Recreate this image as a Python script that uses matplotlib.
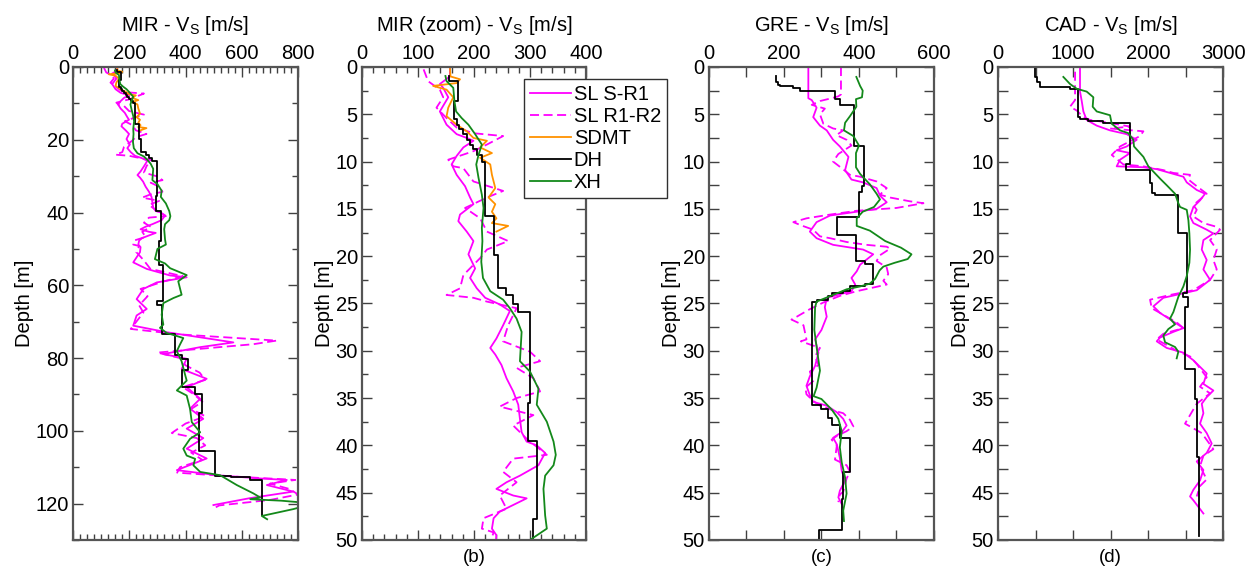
import numpy as np
import matplotlib
matplotlib.use("Agg")
import matplotlib.pyplot as plt
from matplotlib.ticker import MultipleLocator

plt.rcParams['font.family'] = ['Liberation Sans', 'DejaVu Sans']
plt.rcParams['mathtext.default'] = 'regular'

# ---------------- MIR site ----------------
mir_sl1_depth = [0.0, 1.0, 1.8, 2.2, 3.2, 4.7, 6.1, 7.1, 7.5, 7.8, 8.5, 9.4, 10.3, 11.4, 12.6, 13.8, 14.5,
                 15.6, 16.3, 17.4, 18.4, 19.8, 21.3, 22.3, 23.4, 24.4, 25.1, 25.8, 27.3, 28.7, 29.7, 30.4,
                 31.5, 32.9, 34.3, 35.7, 37.2, 38.6, 39.6, 40.0, 40.8, 42.1, 43.2, 43.9, 44.6, 45.3, 45.6,
                 46.3, 47.0, 47.7, 48.8, 49.5, 50.9, 53.7, 55.5, 57.3, 57.8, 59.2, 61.0, 63.8, 66.5, 68.3,
                 71.1, 72.9, 74.3, 75.7, 77.0, 78.9, 80.2, 83.0, 85.7, 88.0, 91.2, 93.9, 96.7, 99.4, 102.0,
                 104.9, 107.6, 110.8, 112.2, 113.1, 113.5, 114.9, 116.7, 118.5, 120.4]
mir_sl1_vs = [157, 157, 139, 145, 154, 139, 151, 169, 187, 199, 181, 169, 160, 169, 184, 193, 199,
              175, 172, 187, 199, 190, 202, 193, 205, 220, 246, 264, 252, 240, 229, 238,
              249, 258, 270, 279, 282, 285, 294, 312, 327, 315, 282, 258, 240, 270, 294,
              270, 246, 235, 232, 240, 238, 214, 262, 345, 404, 298, 250, 226, 262, 226,
              214, 333, 452, 570, 452, 321, 404, 386, 475, 404, 452, 416, 463, 404, 463,
              404, 475, 369, 511, 665, 760, 689, 783, 629, 499]

mir_sl2_depth = [0.25, 1.5, 2.4, 3.2, 4.3, 5.4, 6.4, 7.0, 7.3, 8.2, 8.9, 9.8, 10.5, 10.7, 12.1, 13.1,
                 13.8, 14.9, 16.0, 17.4, 18.4, 19.3, 20.2, 22.0, 23.4, 24.1, 24.4, 24.8, 25.5, 27.3, 29.0,
                 30.1, 31.1, 31.8, 32.9, 34.3, 35.0, 35.9, 36.8, 37.9, 39.3, 41.0, 41.4, 42.8, 43.9, 45.3,
                 46.7, 47.7, 48.8, 49.2, 50.9, 53.0, 55.5, 57.5, 59.0, 61.0, 63.0, 65.5, 67.5, 70.0, 72.0,
                 73.5, 75.2, 76.2, 77.0, 78.5, 80.0, 82.0, 84.0, 86.0, 88.0, 90.0, 92.0, 94.0, 96.0, 98.0,
                 100.6, 102.0, 104.0, 106.0, 108.0, 110.0, 111.5, 112.5, 113.5, 114.5, 116.0, 117.5, 119.0,
                 120.5, 121.3]
mir_sl2_vs = [110, 118, 139, 145, 133, 151, 169, 199, 252, 223, 199, 154, 163, 181, 199, 252,
              223, 184, 211, 223, 261, 223, 211, 181, 175, 151, 199, 223, 276, 261, 252,
              300, 318, 276, 306, 318, 276, 246, 306, 270, 294, 330, 270, 252, 276, 246,
              258, 217, 214, 235, 225, 250, 275, 390, 320, 240, 265, 235, 250, 225, 205,
              380, 724, 640, 520, 300, 380, 400, 450, 470, 390, 430, 460, 420, 470, 400,
              351, 440, 470, 420, 460, 380, 370, 560, 790, 700, 770, 800, 700,
              520, 500]

mir_sdmt_depth = [0.0, 1.0, 1.3, 1.7, 2.0, 2.4, 3.2, 4.3, 5.2, 6.1, 6.8, 7.5, 7.8, 8.5, 9.1, 9.6, 10.3,
                  11.4, 12.8, 13.8, 14.5, 15.3, 16.0, 16.5, 16.8, 17.4]
mir_sdmt_vs = [157, 158, 175, 169, 127, 151, 163, 154, 151, 169, 187, 199, 223, 211, 232, 211, 229,
               232, 238, 226, 238, 232, 240, 232, 261, 240]

# down-hole: layer boundaries and layer velocities
mir_dh_bounds = [0.9, 1.5, 3.6, 5.5, 6.1, 6.6, 7.1, 7.7, 8.2, 8.7, 9.3, 10.0, 15.7, 19.9, 23.4, 24.1,
                 25.1, 25.9, 35.5, 39.5, 47.8, 54.5, 64.3, 65.5, 73.3, 79.2, 80.2, 83.2, 88.0, 90.0,
                 95.0, 105.6, 112.3, 112.8, 113.5, 123.0]
mir_dh_vs = [156, 171, 164, 169, 174, 181, 187, 193, 198, 205, 214, 220, 235, 243, 258,
             270, 279, 300, 296, 312, 306, 321, 298, 315, 363, 386, 410, 386, 434,
             458, 446, 505, 560, 630, 671]

mir_xh_depth = [0.95, 1.5, 2.2, 3.6, 4.7, 5.4, 6.1, 7.1, 8.2, 9.3, 10.3, 11.7, 13.5, 14.9, 17.0, 18.4,
                20.6, 22.3, 23.7, 24.6, 25.5, 26.6, 28.0, 31.1, 32.2, 34.0, 35.7, 37.5, 39.6, 41.0, 42.1,
                43.2, 44.6, 47.4, 48.8, 50.0, 52.8, 54.0, 55.3, 57.2, 58.9, 60.8, 62.6, 63.5, 64.9, 68.1,
                70.8, 71.7, 73.1, 74.5, 76.3, 78.1, 80.9, 84.5, 86.2, 88.9, 90.3, 94.0, 97.6, 100.4,
                102.2, 104.9, 106.8, 107.7, 109.5, 111.3, 112.2, 114.9, 117.2, 118.3, 118.8, 119.2, 119.8,
                120.5, 121.5, 123.4, 124.3]
mir_xh_vs = [149, 151, 163, 165, 168, 178, 190, 202, 214, 208, 204, 208, 214, 217, 214, 215,
             213, 216, 229, 252, 264, 276, 285, 282, 300, 315, 312, 330, 342, 346, 342,
             327, 324, 327, 330, 300, 291, 327, 345, 404, 374, 380, 386, 357, 321, 315,
             321, 309, 333, 392, 380, 369, 386, 398, 404, 369, 404, 416, 422, 452,
             416, 392, 404, 434, 428, 452, 523, 582, 641, 665, 630, 740, 830,
             830, 784, 671, 690]

# ---------------- GRE site ----------------
gre_sl1_depth = [0.0, 3.3, 3.5, 4.3, 5.3, 6.2, 6.7, 7.7, 8.4, 9.5, 10.9, 11.9, 12.2, 12.8, 13.6, 14.3,
                 15.0, 15.3, 15.7, 16.4, 17.4, 18.1, 18.8, 19.3, 19.8, 20.9, 21.6, 22.3, 23.0, 23.7, 24.4,
                 25.4, 26.4, 27.8, 28.8, 30.2, 31.6, 32.7, 33.7, 34.7, 35.4, 35.8, 36.5, 37.2, 37.9, 38.6,
                 39.2, 39.9, 41.3, 42.7, 43.7, 44.8, 45.5, 46.2]
gre_sl1_vs = [265, 265, 274, 287, 278, 296, 314, 331, 349, 372, 363, 380, 411, 447, 456, 474,
              447, 394, 323, 287, 269, 287, 331, 411, 438, 403, 394, 380, 390, 380, 314,
              309, 314, 300, 283, 292, 283, 269, 260, 269, 278, 314, 341, 358, 367, 354,
              331, 341, 349, 354, 363, 349, 345, 354]

gre_sl2_depth = [0.0, 2.9, 3.1, 3.3, 3.6, 4.0, 4.4, 5.0, 6.0, 6.5, 6.7, 7.2, 7.7, 8.3, 9.2, 10.0, 10.7,
                 11.4, 11.6, 12.1, 12.8, 13.5, 13.8, 14.2, 14.4, 14.9, 15.2, 15.6, 16.0, 16.4, 16.7, 17.2,
                 17.9, 18.1, 18.5, 18.8, 19.0, 19.2, 19.9, 20.5, 21.2, 21.9, 22.6, 23.0, 23.7, 24.2, 24.9,
                 25.6, 26.4, 26.7, 27.3, 28.8, 29.0, 29.7, 30.6, 31.5, 32.2, 33.2, 33.9, 34.6, 35.3, 35.8,
                 36.3, 36.6, 37.3, 38.0, 38.5, 39.0, 39.4, 40.0, 41.5, 42.1, 42.8, 43.5, 44.9, 45.2, 46.0]
gre_sl2_vs = [352, 352, 345, 327, 296, 274, 309, 296, 305, 331, 358, 340, 367, 380, 345, 331, 354,
              376, 403, 447, 474, 456, 483, 536, 572, 500, 394, 323, 260, 225, 243, 278,
              296, 323, 367, 420, 474, 483, 456, 447, 474, 478, 465, 474, 394, 349, 305,
              269, 234, 220, 252, 260, 245, 296, 283, 292, 269, 278, 257, 260, 278, 296,
              331, 358, 376, 385, 367, 341, 327, 341, 336, 367, 376, 367, 358, 349, 345]

gre_dh_bounds = [1.0, 1.6, 1.9, 2.0, 2.2, 2.5, 3.4, 4.0, 8.3, 12.6, 13.2, 15.9, 17.8, 20.5, 20.8, 22.9,
                 23.2, 23.7, 23.9, 24.2, 24.6, 24.8, 35.7, 36.2, 37.1, 37.8, 39.2, 42.8, 45.7, 48.9, 50.0]
gre_dh_vs = [179, 183, 190, 225, 243, 336, 350, 387, 413, 408, 399, 341, 392, 417, 438,
             417, 376, 358, 327, 318, 287, 276, 300, 318, 327, 349, 376, 358, 354, 293]

gre_xh_depth = [1.05, 2.0, 2.5, 3.2, 3.4, 4.2, 5.2, 5.9, 6.7, 7.3, 8.3, 9.1, 10.6, 11.3, 12.4, 13.4,
                14.0, 14.8, 15.3, 16.0, 16.8, 17.3, 18.4, 19.1, 19.8, 20.3, 20.7, 21.1, 21.5, 22.4, 22.9,
                23.2, 23.5, 24.1, 24.8, 25.4, 27.8, 29.6, 32.1, 33.9, 34.8, 35.1, 36.2, 37.2, 38.5, 40.2,
                41.8, 43.4, 45.1, 46.9, 48.0]
gre_xh_vs = [393, 403, 410, 408, 392, 393, 376, 363, 360, 385, 400, 392, 392, 403, 429, 447,
             456, 440, 410, 394, 394, 429, 470, 512, 540, 530, 495, 465, 455, 443, 429,
             403, 367, 331, 287, 283, 281, 287, 296, 287, 279, 300, 327, 345, 354, 349,
             354, 363, 367, 358, 360]

# ---------------- CAD site ----------------
cad_sl1_depth = [0.0, 2.6, 3.6, 4.7, 5.6, 6.2, 6.7, 7.1, 7.7, 8.4, 8.8, 9.1, 9.8, 10.5, 10.6, 10.8,
                 11.1, 11.6, 12.2, 13.0, 13.4, 14.1, 14.8, 15.8, 16.5, 17.2, 17.6, 18.3, 19.3, 20.4, 21.4,
                 22.5, 23.6, 24.4, 25.3, 26.0, 27.6, 28.0, 28.6, 29.0, 29.7, 30.2, 31.0, 31.7, 32.4, 33.5,
                 34.2, 34.9, 35.6, 36.6, 37.7, 38.7, 39.8, 40.8, 41.7, 42.6, 43.7, 44.7, 45.4, 45.8, 47.2]
cad_sl1_vs = [1093, 1093, 1116, 1138, 1182, 1316, 1493, 1716, 1849, 1716, 1582, 1760, 1627, 1582, 1938,
              2116, 2249, 2471, 2516, 2649, 2760, 2693, 2604, 2560, 2604, 2782, 2871, 2738, 2716, 2782,
              2738, 2827, 2649, 2204, 2071, 2160, 2471, 2338, 2160, 2116, 2249, 2471, 2604, 2693, 2782,
              2738, 2871, 2782, 2716, 2738, 2693, 2782, 2849, 2782, 2649, 2738, 2693, 2604, 2560, 2604,
              2738]

cad_sl2_depth = [0.5, 3.5, 4.2, 4.6, 5.3, 5.6, 5.8, 6.3, 6.5, 6.8, 7.3, 8.4, 9.3, 10.3, 10.5, 10.9,
                 11.2, 11.4, 11.9, 12.6, 13.4, 14.6, 15.1, 15.8, 16.5, 16.9, 17.2, 18.3, 19.3, 20.4, 21.4,
                 22.5, 23.6, 24.1, 24.6, 25.5, 27.0, 27.6, 28.2, 28.8, 29.2, 30.0, 30.6, 31.4, 32.8, 33.8,
                 34.5, 35.6, 37.7, 38.7, 40.4, 41.1, 42.2, 43.6, 44.3, 45.4]
cad_sl2_vs = [1027, 1027, 960, 1049, 1138, 1227, 1404, 1760, 1493, 1938, 1893, 1627, 1516, 1671, 1938,
              2204, 2338, 2560, 2538, 2649, 2782, 2604, 2649, 2604, 2738, 2916, 2960, 2827, 2916, 2871,
              2916, 2827, 2604, 2293, 2027, 2049, 2382, 2471, 2204, 2116, 2204, 2382, 2560, 2649, 2782,
              2693, 2827, 2649, 2493, 2716, 2871, 2738, 2693, 2782, 2693, 2649]

cad_dh_bounds = [0.0, 1.05, 1.6, 2.1, 2.3, 5.3, 5.5, 5.7, 5.9, 10.3, 10.9, 12.3, 13.3, 13.5, 17.6,
                 23.9, 24.3, 25.4, 31.9, 35.1, 41.2, 49.6]
cad_dh_vs = [493, 520, 560, 960, 1062, 1093, 1200, 1400, 1760, 1700, 2027, 2050, 2093, 2400,
             2516, 2471, 2530, 2493, 2627, 2649, 2684]

cad_xh_depth = [1.05, 1.8, 2.3, 2.6, 3.2, 4.2, 4.7, 5.1, 6.0, 6.7, 7.0, 7.7, 8.4, 9.5, 10.5, 11.8,
                12.5, 13.4, 14.4, 14.8, 15.1, 16.2, 17.6, 19.3, 20.7, 22.1, 23.2, 24.3, 25.9, 26.6, 27.2,
                27.7, 28.4, 29.1, 29.6, 30.1, 30.8]
cad_xh_vs = [871, 960, 1049, 1182, 1271, 1262, 1316, 1493, 1516, 1627, 1738, 1804, 1813, 1938, 2004,
             2160, 2249, 2360, 2404, 2427, 2516, 2538, 2551, 2560, 2551, 2516, 2471, 2404, 2338, 2293,
             2360, 2271, 2204, 2227, 2360, 2404, 2382]

MAGENTA = '#FF00FF'
ORANGE = '#FF9200'
GREEN = '#13891A'
LW = 1.3
FS = 14.5


def steps(bounds, vs):
    # turn layer boundaries + velocities into a staircase profile
    y = np.repeat(bounds, 2)[1:-1]
    x = np.repeat(vs, 2)
    return x, y


def draw_profile(ax, sl1, sl2, dh, xh, sdmt=None):
    ax.plot(sl1[1], sl1[0], color=MAGENTA, lw=LW, label='SL S-R1')
    ax.plot(sl2[1], sl2[0], color=MAGENTA, lw=LW, ls=(0, (5, 2.5)), label='SL R1-R2')
    if sdmt is not None:
        ax.plot(sdmt[1], sdmt[0], color=ORANGE, lw=LW, label='SDMT')
    x, y = steps(dh[0], dh[1])
    ax.plot(x, y, color='black', lw=LW, label='DH')
    ax.plot(xh[1], xh[0], color=GREEN, lw=LW, label='XH')


def style_axis(ax, title, xmax, xmaj, xmin, ymax, ymaj, ymin, tag=None, same_len=False):
    ax.set_xlim(0, xmax)
    ax.set_ylim(ymax, 0)
    ax.xaxis.set_major_locator(MultipleLocator(xmaj))
    ax.xaxis.set_minor_locator(MultipleLocator(xmin))
    ax.yaxis.set_major_locator(MultipleLocator(ymaj))
    ax.yaxis.set_minor_locator(MultipleLocator(ymin))
    ax.tick_params(which='both', direction='in', top=True, bottom=True, left=True, right=True,
                   labeltop=True, labelbottom=False, labelsize=FS, color='#404040', width=1.0)
    ax.tick_params(which='major', length=7.5, pad=3)
    ax.tick_params(which='minor', length=7.5 if same_len else 4.5)
    for s in ax.spines.values():
        s.set_color('#555555')
        s.set_linewidth(1.6)
    ax.set_title(title, fontsize=FS, pad=26)
    ax.set_ylabel('Depth [m]', fontsize=FS, labelpad=1)
    if tag:
        ax.text(0.5, -0.02, tag, transform=ax.transAxes, ha='center', va='top', fontsize=13.5)


fig = plt.figure(figsize=(12.53, 5.79), dpi=100)
bot, h = 0.0674, 0.8169
ax_a = fig.add_axes([0.0583, bot, 0.1796, h])
ax_b = fig.add_axes([0.2889, bot, 0.1788, h])
ax_c = fig.add_axes([0.5658, bot, 0.1796, h])
ax_d = fig.add_axes([0.7965, bot, 0.1796, h])

mir = dict(sl1=(mir_sl1_depth, mir_sl1_vs), sl2=(mir_sl2_depth, mir_sl2_vs),
           dh=(mir_dh_bounds, mir_dh_vs), xh=(mir_xh_depth, mir_xh_vs),
           sdmt=(mir_sdmt_depth, mir_sdmt_vs))
draw_profile(ax_a, **mir)
draw_profile(ax_b, **mir)
draw_profile(ax_c, (gre_sl1_depth, gre_sl1_vs), (gre_sl2_depth, gre_sl2_vs),
             (gre_dh_bounds, gre_dh_vs), (gre_xh_depth, gre_xh_vs))
draw_profile(ax_d, (cad_sl1_depth, cad_sl1_vs), (cad_sl2_depth, cad_sl2_vs),
             (cad_dh_bounds, cad_dh_vs), (cad_xh_depth, cad_xh_vs))

style_axis(ax_a, 'MIR - V$_S$ [m/s]', 800, 200, 25, 130, 20, 10)
style_axis(ax_b, 'MIR (zoom) - V$_S$ [m/s]', 400, 100, 20, 50, 5, 2.5, '(b)')
style_axis(ax_c, 'GRE - V$_S$ [m/s]', 600, 200, 100, 50, 5, 2.5, '(c)', same_len=True)
style_axis(ax_d, 'CAD - V$_S$ [m/s]', 3000, 1000, 500, 50, 5, 2.5, '(d)', same_len=True)

leg = ax_b.legend(loc='upper left', bbox_to_anchor=(0.725, 0.975), fontsize=14.5,
                  frameon=True, fancybox=False, edgecolor='#303030', framealpha=1,
                  handlelength=2.0, handletextpad=0.15, labelspacing=0.15, borderpad=0.3,
                  borderaxespad=0)
leg.get_frame().set_linewidth(1.0)

fig.savefig('out.png', dpi=100)
